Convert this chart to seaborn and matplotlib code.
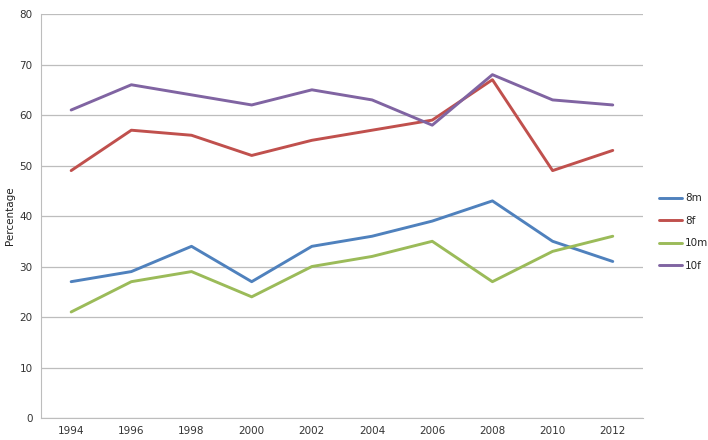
import pandas as pd
import matplotlib
matplotlib.use('Agg')
import matplotlib.pyplot as plt
import seaborn as sns

years = [1994, 1996, 1998, 2000, 2002, 2004, 2006, 2008, 2010, 2012]
s_8m = [27, 29, 34, 27, 34, 36, 39, 43, 35, 31]
s_8f = [49, 57, 56, 52, 55, 57, 59, 67, 49, 53]
s_10m = [21, 27, 29, 24, 30, 32, 35, 27, 33, 36]
s_10f = [61, 66, 64, 62, 65, 63, 58, 68, 63, 62]
series_names = ['8m', '8f', '10m', '10f']
colors = ['#4F81BD', '#C0504D', '#9BBB59', '#8064A2']

df = pd.DataFrame({'8m': s_8m, '8f': s_8f, '10m': s_10m, '10f': s_10f})
df['pos'] = range(len(years))
long_df = df.melt(id_vars='pos', var_name='series', value_name='value')

sns.set_style('white')
plt.rcParams['font.family'] = ['DejaVu Sans']

fig = plt.figure(figsize=(7.08, 4.4), dpi=100)
ax = fig.add_axes([0.058, 0.05, 0.85, 0.918])

sns.lineplot(data=long_df, x='pos', y='value', hue='series', hue_order=series_names,
             palette=colors, linewidth=2.1, ax=ax)

ax.set_xlim(-0.5, len(years) - 0.5)
ax.set_ylim(0, 80)
ax.set_yticks(range(0, 81, 10))
ax.set_xticks(range(len(years)))
ax.set_xticklabels([str(y) for y in years])
ax.tick_params(axis='both', labelsize=7.5, colors='#333333', length=0, pad=6)
ax.yaxis.grid(True, color='#BDBDBD', linewidth=0.9)
ax.set_axisbelow(True)
ax.set_xlabel('')
ax.set_ylabel('Percentage', fontsize=7.5, color='#222222', labelpad=3)
for side in ['top', 'right']:
    ax.spines[side].set_visible(False)
ax.spines['left'].set_color('#BDBDBD')
ax.spines['bottom'].set_color('#BDBDBD')

ax.legend(title=None, loc='center left', bbox_to_anchor=(659 / 708, 1 - 232 / 440),
          bbox_transform=fig.transFigure, borderaxespad=0, borderpad=0,
          frameon=False, fontsize=7.5, handlelength=2.2, handletextpad=0.3,
          labelspacing=1.2)

fig.savefig('out.png', dpi=100)
